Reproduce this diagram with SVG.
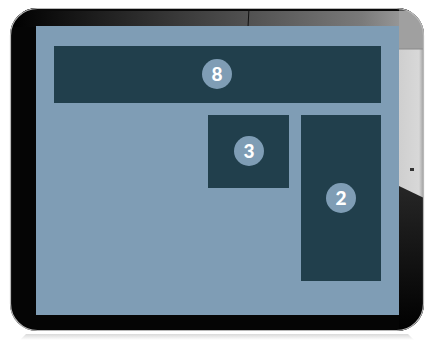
<svg xmlns="http://www.w3.org/2000/svg" width="428" height="340" viewBox="0 0 428 340">
  <style>
    .panel { fill: #213f4c; }
    .badge { fill: #7f9db5; }
    .num { fill: #ffffff; font-family: "Lato", "DejaVu Sans", sans-serif; font-weight: 900; font-size: 19px; text-anchor: middle; }
  </style>
  <defs>
    <clipPath id="body">
      <rect x="10" y="8" width="414" height="323" rx="27" ry="27"/>
    </clipPath>
    <linearGradient id="topG" x1="0" y1="0" x2="1" y2="0">
      <stop offset="0" stop-color="#000000"/>
      <stop offset="0.3" stop-color="#2a2a2a"/>
      <stop offset="0.6" stop-color="#555555"/>
      <stop offset="0.85" stop-color="#7a7a7a"/>
      <stop offset="1" stop-color="#a8a8a8"/>
    </linearGradient>
    <linearGradient id="rightDark" x1="0" y1="0" x2="0" y2="1">
      <stop offset="0" stop-color="#555555"/>
      <stop offset="1" stop-color="#000000"/>
    </linearGradient>
    <linearGradient id="rightLight" x1="0" y1="0" x2="1" y2="0">
      <stop offset="0" stop-color="#cfcfcf"/>
      <stop offset="0.8" stop-color="#d8d8d8"/>
      <stop offset="1" stop-color="#9a9a9a"/>
    </linearGradient>
    <linearGradient id="refl" x1="0" y1="0" x2="0" y2="1">
      <stop offset="0" stop-color="#d9d9d9"/>
      <stop offset="1" stop-color="#ffffff"/>
    </linearGradient>
  </defs>

  <rect width="428" height="340" fill="#ffffff"/>

  <!-- reflection -->
  <path d="M20,340 L26,334 L408,334 L414,340 Z" fill="url(#refl)"/>

  <!-- tablet body -->
  <g id="tablet">
    <rect x="10" y="8" width="414" height="323" rx="27" ry="27" fill="#050505"/>
    <g clip-path="url(#body)">
      <rect x="10" y="8" width="414" height="19" fill="url(#topG)"/>
      <rect x="10" y="8" width="414" height="3" fill="#0a0a0a"/>
      <rect x="399" y="8" width="25" height="323" fill="url(#rightDark)"/>
      <rect x="399" y="11" width="25" height="38" fill="#a0a0a0"/>
      <polygon points="399,49 424,49 424,198 399,186" fill="url(#rightLight)"/>
      <line x1="399" y1="49" x2="424" y2="49" stroke="#8a8a8a" stroke-width="1"/>
      <line x1="249" y1="8" x2="248" y2="27" stroke="#111111" stroke-width="1"/>
    </g>
    <rect x="10.5" y="8.5" width="413" height="322" rx="27" ry="27" fill="none" stroke="#b8b8b8" stroke-width="1.2"/>
    <rect x="410" y="168" width="4" height="3" fill="#333333"/>
  </g>

  <!-- screen -->
  <rect id="screen" x="36" y="26" width="363" height="289" fill="#7f9db5"/>

  <g id="node-8">
    <rect class="panel" x="54" y="46" width="327" height="57"/>
    <circle class="badge" cx="217" cy="74" r="15"/>
    <text class="num" x="217" y="81">8</text>
  </g>
  <g id="node-3">
    <rect class="panel" x="208" y="115" width="81" height="73"/>
    <circle class="badge" cx="249" cy="151" r="15"/>
    <text class="num" x="249" y="158">3</text>
  </g>
  <g id="node-2">
    <rect class="panel" x="301" y="115" width="80" height="166"/>
    <circle class="badge" cx="341" cy="198" r="15"/>
    <text class="num" x="341" y="205">2</text>
  </g>
  <g id="connectors"/>
</svg>
